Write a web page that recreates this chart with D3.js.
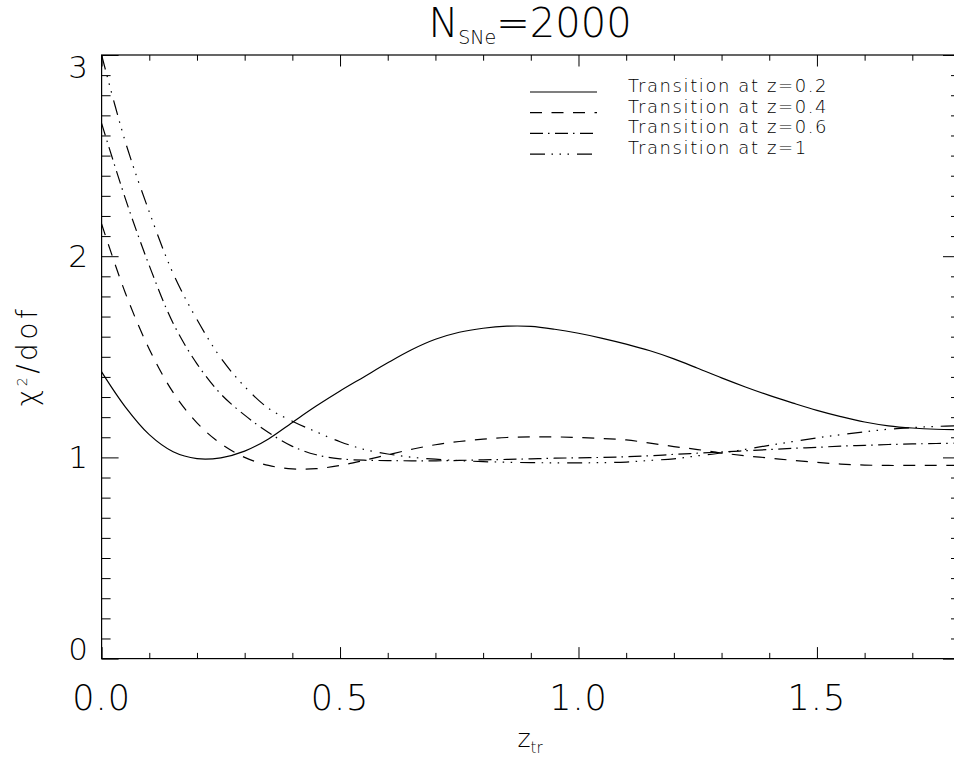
<!DOCTYPE html>
<html>
<head>
<meta charset="utf-8">
<script src="https://cdn.jsdelivr.net/npm/d3@7"></script>
<style>
  body { margin: 0; background: #fff; }
  svg text { font-family: "DejaVu Sans ExtraLight", "DejaVu Sans Light", "Lato Light", "Lato", sans-serif; font-weight: 200; fill: #000; }
</style>
</head>
<body>
<div id="container"></div>
<script>
// redshift grid the curves were read on
const zValues = [0.00, 0.05, 0.10, 0.15, 0.20, 0.25, 0.30, 0.35, 0.40, 0.45,
                 0.50, 0.55, 0.60, 0.65, 0.70, 0.75, 0.80, 0.85, 0.90, 0.95,
                 1.00, 1.05, 1.10, 1.15, 1.20, 1.25, 1.30, 1.35, 1.40, 1.45,
                 1.50, 1.55, 1.60, 1.65, 1.70, 1.75, 1.80];

// chi^2/dof for each true transition redshift
const chiZ02 = [1.425, 1.250, 1.113, 1.028, 0.994, 0.998, 1.031, 1.092, 1.174, 1.255,
                1.330, 1.400, 1.470, 1.535, 1.587, 1.622, 1.642, 1.652, 1.651, 1.637,
                1.617, 1.592, 1.563, 1.530, 1.490, 1.443, 1.395, 1.350, 1.308, 1.270,
                1.234, 1.203, 1.176, 1.157, 1.146, 1.140, 1.138];
const chiZ04 = [2.160, 1.816, 1.538, 1.323, 1.172, 1.068, 1.000, 0.960, 0.943, 0.944,
                0.960, 0.985, 1.013, 1.040, 1.063, 1.079, 1.091, 1.099, 1.102, 1.102,
                1.099, 1.094, 1.087, 1.071, 1.054, 1.039, 1.022, 1.008, 0.997, 0.985,
                0.975, 0.967, 0.962, 0.960, 0.960, 0.960, 0.960];
const chiZ06 = [2.660, 2.285, 1.953, 1.667, 1.465, 1.315, 1.210, 1.124, 1.055, 1.013,
                0.993, 0.986, 0.984, 0.983, 0.983, 0.985, 0.988, 0.990, 0.993, 0.996,
                0.998, 1.000, 1.003, 1.008, 1.015, 1.021, 1.027, 1.033, 1.039, 1.045,
                1.050, 1.056, 1.060, 1.064, 1.067, 1.069, 1.071];
const chiZ1  = [3.000, 2.567, 2.220, 1.914, 1.685, 1.494, 1.352, 1.244, 1.180, 1.127,
                1.078, 1.040, 1.017, 1.001, 0.991, 0.984, 0.979, 0.976, 0.974, 0.973,
                0.973, 0.974, 0.977, 0.985, 0.993, 1.008, 1.022, 1.040, 1.060, 1.079,
                1.097, 1.113, 1.127, 1.140, 1.148, 1.154, 1.158];

const seriesNames = ["Transition at z=0.2", "Transition at z=0.4",
                     "Transition at z=0.6", "Transition at z=1"];
const xMajor = [0, 0.5, 1.0, 1.5];
const xMinor = [0.1, 0.2, 0.3, 0.4, 0.6, 0.7, 0.8, 0.9, 1.1, 1.2, 1.3, 1.4, 1.6, 1.7];
const yMajor = [0, 1, 2, 3];
const yMinor = [0.1, 0.2, 0.3, 0.4, 0.5, 0.6, 0.7, 0.8, 0.9,
                1.1, 1.2, 1.3, 1.4, 1.5, 1.6, 1.7, 1.8, 1.9,
                2.1, 2.2, 2.3, 2.4, 2.5, 2.6, 2.7, 2.8, 2.9];

const width = 954, height = 759;
const plot = { left: 101.6, right: 960, top: 55, bottom: 658.6 };

const svg = d3.select("#container").append("svg")
    .attr("width", width)
    .attr("height", height);

const x = d3.scaleLinear().domain([0, 1.8]).range([plot.left, plot.right]);
const y = d3.scaleLinear().domain([0, 3]).range([plot.bottom, plot.top]);

// box with inward ticks on all four sides
function styleAxis(g) {
    g.select(".domain").remove();
    g.selectAll("line").attr("stroke", "#000").attr("stroke-width", 1);
    g.selectAll("text").remove();
}
const axes = [
    [d3.axisBottom(x), `translate(0,${plot.bottom})`, xMajor, xMinor, -11.5, -5.7],
    [d3.axisTop(x), `translate(0,${plot.top})`, xMajor, xMinor, -11.5, -5.7],
    [d3.axisLeft(y), `translate(${plot.left},0)`, yMajor, yMinor, -17, -9],
    [d3.axisRight(y), `translate(${plot.right},0)`, yMajor, yMinor, -17, -9]
];
axes.forEach(([axis, tr, major, minor, lMaj, lMin]) => {
    svg.append("g").attr("transform", tr)
        .call(axis.tickValues(major).tickSizeInner(lMaj).tickSizeOuter(0))
        .call(styleAxis);
    svg.append("g").attr("transform", tr)
        .call(axis.tickValues(minor).tickSizeInner(lMin).tickSizeOuter(0))
        .call(styleAxis);
});

svg.append("rect")
    .attr("x", plot.left).attr("y", plot.top)
    .attr("width", plot.right - plot.left).attr("height", plot.bottom - plot.top)
    .attr("fill", "none").attr("stroke", "#000").attr("stroke-width", 1.2);

// tick labels
svg.selectAll(".xlab").data(xMajor).enter().append("text")
    .attr("class", "xlab")
    .attr("x", d => x(d))
    .attr("y", 710)
    .attr("text-anchor", "middle")
    .style("font-size", "35px")
    .style("letter-spacing", "1px")
    .text(d => d3.format(".1f")(d));

svg.selectAll(".ylab").data(yMajor).enter().append("text")
    .attr("class", "ylab")
    .attr("x", 88)
    .attr("y", d => Math.min(Math.max(y(d), plot.top + 12), plot.bottom - 10) + 11)
    .attr("text-anchor", "end")
    .style("font-size", "31px")
    .text(d => d);

// curves
svg.append("clipPath").attr("id", "clip")
  .append("rect")
    .attr("x", plot.left).attr("y", plot.top)
    .attr("width", plot.right - plot.left).attr("height", plot.bottom - plot.top);

const dashes = ["none", "12,9.5", "13,5,1.5,5.5", "15,6.5,1.5,6.5,1.5,6.5,1.5,8"];
const allSeries = [chiZ02, chiZ04, chiZ06, chiZ1];

const line = d3.line()
    .x((d, i) => x(zValues[i]))
    .y(d => y(d))
    .curve(d3.curveCatmullRom.alpha(0.5));

svg.append("g").attr("clip-path", "url(#clip)")
  .selectAll("path")
    .data(allSeries)
  .enter().append("path")
    .attr("d", line)
    .attr("fill", "none")
    .attr("stroke", "#000")
    .attr("stroke-width", 1.2)
    .attr("stroke-dasharray", (d, i) => dashes[i]);

// legend
const legend = svg.append("g").attr("transform", "translate(530,92)");
seriesNames.forEach((name, i) => {
    const row = legend.append("g").attr("transform", `translate(0,${i * 20.7})`);
    row.append("line")
        .attr("x1", 0).attr("x2", 67)
        .attr("y1", 0).attr("y2", 0)
        .attr("stroke", "#000")
        .attr("stroke-width", 1.2)
        .attr("stroke-dasharray", dashes[i]);
    row.append("text")
        .attr("x", 98).attr("y", 0)
        .style("font-size", "18px")
        .style("letter-spacing", "1.6px")
        .text(name);
});

// title
const title = svg.append("text")
    .attr("x", 530).attr("y", 37)
    .attr("text-anchor", "middle")
    .style("font-size", "40px");
title.append("tspan").text("N");
title.append("tspan").attr("dy", 7).style("font-size", "19px").text("SNe");
title.append("tspan").attr("dy", -7).text("=2000");

// axis titles
const xt = svg.append("text")
    .attr("x", 530).attr("y", 747)
    .attr("text-anchor", "middle")
    .style("font-size", "25px");
xt.append("tspan").text("z");
xt.append("tspan").attr("dy", 6).style("font-size", "15px").text("tr");

const yt = svg.append("text")
    .attr("transform", "translate(37,356) rotate(-90)")
    .attr("text-anchor", "middle")
    .style("font-size", "28px")
    .style("letter-spacing", "3.5px");
yt.append("tspan").text("\u03c7");
yt.append("tspan").attr("dy", -10).style("font-size", "14px").text("2");
yt.append("tspan").attr("dy", 10).text("/dof");
</script>
</body>
</html>
